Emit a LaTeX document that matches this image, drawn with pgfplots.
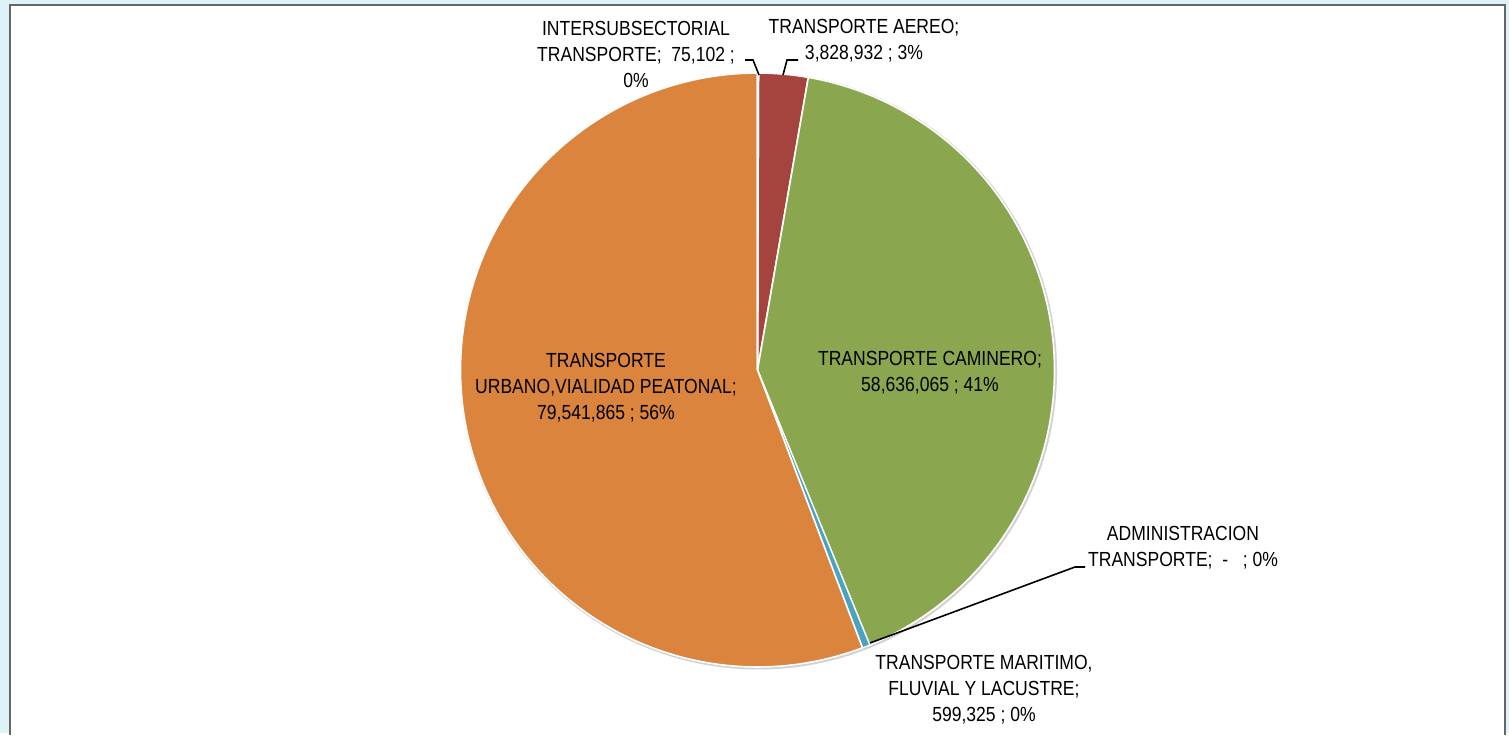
\documentclass[border=0pt]{standalone}
\usepackage{pgfplots}
\pgfplotsset{compat=1.18}
\usepackage{fontspec}
\setmainfont{Liberation Sans}[FakeStretch=0.86]
\definecolor{cOrange}{HTML}{DA843D}
\definecolor{cRed}{HTML}{A5433F}
\definecolor{cGreen}{HTML}{8AA74F}
\definecolor{cBlue}{HTML}{4AA3BF}
\definecolor{bgCyan}{HTML}{DDF3F7}
\tikzset{lbl/.style={font=\fontsize{10.2}{13}\selectfont, align=center, text=black, inner sep=0pt}}
% values (millions)
\def\vInter{0.075102}
\def\vAereo{3.828932}
\def\vCamin{58.636065}
\def\vAdmin{0}
\def\vMarit{0.599325}
\def\vUrban{79.541865}
\begin{document}
\begin{tikzpicture}
\pgfmathsetmacro\tot{\vInter+\vAereo+\vCamin+\vAdmin+\vMarit+\vUrban}
\pgfmathsetmacro\aA{90}
\pgfmathsetmacro\aB{\aA-360*(\vInter/\tot)}
\pgfmathsetmacro\aC{\aB-360*(\vAereo/\tot)}
\pgfmathsetmacro\aD{\aC-360*(\vCamin/\tot)}
\pgfmathsetmacro\aE{\aD-360*(\vAdmin/\tot)}
\pgfmathsetmacro\aF{\aE-360*(\vMarit/\tot)}
\pgfmathsetmacro\aG{\aF-360*(\vUrban/\tot)}
\begin{axis}[width=754.5pt,height=366.5pt,scale only axis,
  xmin=0,xmax=1509,ymin=0,ymax=733,hide axis,clip=false]
\fill[bgCyan] (0,0) rectangle (1509,733);
\fill[white] (10,0) rectangle (1505,728);
\draw[gray!80!black, line width=1.2pt] (10,-2) -- (10,728) -- (1505,728) -- (1505,-2);
\draw[gray!35, line width=1.5pt] (758.5,362) circle[radius=297];
\addplot[fill=cRed, draw=white, line width=0.8pt, domain=\aC:\aB, samples=30]
  ({757.5+297*cos(x)},{363+297*sin(x)}) -- (757.5,363) -- cycle;
\addplot[fill=cGreen, draw=white, line width=0.8pt, domain=\aD:\aC, samples=150]
  ({757.5+297*cos(x)},{363+297*sin(x)}) -- (757.5,363) -- cycle;
\addplot[fill=cBlue, draw=white, line width=0.6pt, domain=\aF:\aE, samples=10]
  ({757.5+297*cos(x)},{363+297*sin(x)}) -- (757.5,363) -- cycle;
\addplot[fill=cOrange, draw=white, line width=0.8pt, domain=\aG:\aF, samples=200]
  ({757.5+297*cos(x)},{363+297*sin(x)}) -- (757.5,363) -- cycle;
\addplot[fill=gray, draw=white, line width=0.8pt, domain=\aB:\aA, samples=5]
  ({757.5+297*cos(x)},{363+297*sin(x)}) -- (757.5,363) -- cycle;
% leader lines
\draw[black, line width=0.8pt] (745,673) -- (753,673) -- (759,658);
\draw[black, line width=0.8pt] (798,673) -- (787,673) -- (783,658);
\draw[black, line width=0.8pt] (1085,166) -- (1075,166) -- (870,90);
% labels
\node[lbl] at (636,678.5) {INTERSUBSECTORIAL\\TRANSPORTE;\ \ 75,102 ;\ \\0\%};
\node[lbl] at (864,692) {TRANSPORTE AEREO;\\3,828,932 ; 3\%};
\node[lbl] at (930,360.5) {TRANSPORTE CAMINERO;\\58,636,065 ; 41\%};
\node[lbl] at (606,345.5) {TRANSPORTE\\URBANO,VIALIDAD PEATONAL;\\79,541,865 ; 56\%};
\node[lbl] at (1183,185.5) {ADMINISTRACION\\TRANSPORTE;\ \ -\ \ \ ; 0\%};
\node[lbl] at (984,43) {TRANSPORTE MARITIMO,\\FLUVIAL Y LACUSTRE;\\599,325 ; 0\%};
\end{axis}
\end{tikzpicture}
\end{document}
